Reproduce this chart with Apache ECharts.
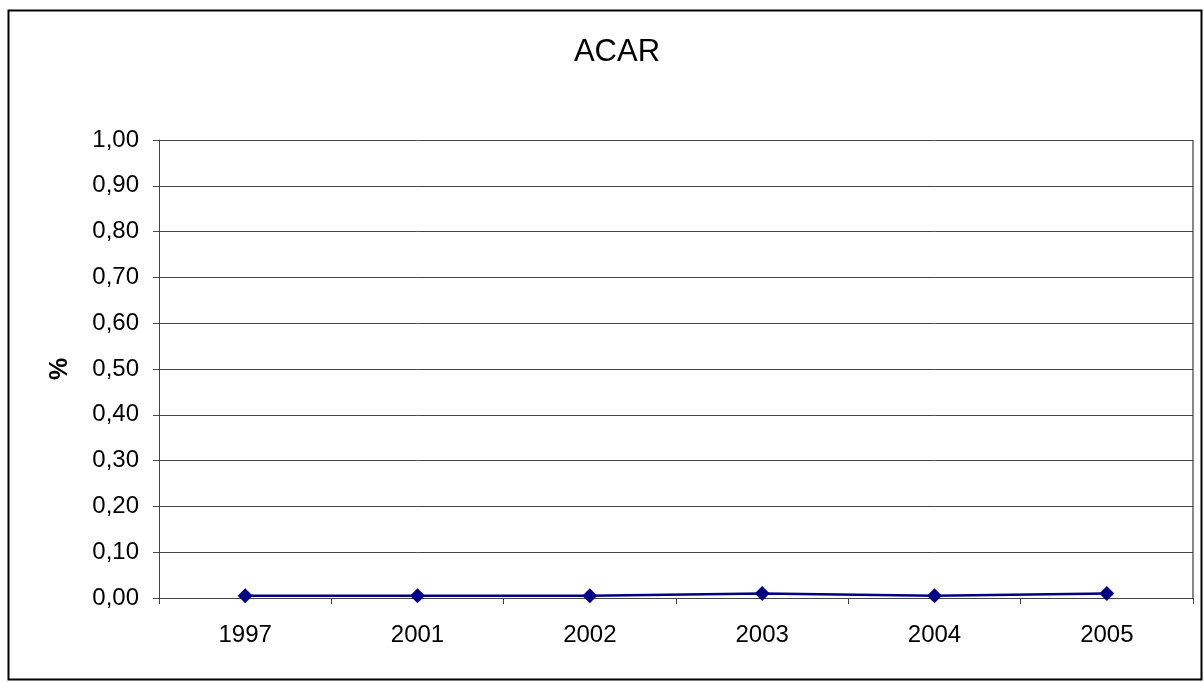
<!DOCTYPE html>
<html>
<head>
<meta charset="utf-8">
<style>
  html, body { margin: 0; padding: 0; background: #fff; }
  #chart { width: 1204px; height: 682px; }
</style>
<script src="https://cdn.jsdelivr.net/npm/echarts@6/dist/echarts.min.js"></script>
</head>
<body>
<div id="chart"></div>
<script>
// Annual share for ACAR, in percent
const years = ['1997', '2001', '2002', '2003', '2004', '2005'];
const acarValues = [0.005, 0.005, 0.005, 0.01, 0.005, 0.01];
const yMin = 0;
const yMax = 1;
const yStep = 0.1;

const chart = echarts.init(document.getElementById('chart'));
const font = 'Liberation Sans, Arial, sans-serif';

chart.setOption({
  animation: false,
  backgroundColor: '#ffffff',
  title: {
    text: 'ACAR',
    left: 612,
    textAlign: 'center',
    top: 32,
    textStyle: { fontFamily: font, fontSize: 31, fontWeight: 'normal', color: '#000' }
  },
  graphic: [
    {
      type: 'rect',
      shape: { x: 8.5, y: 10.5, width: 1193, height: 669 },
      style: { fill: 'none', stroke: '#000', lineWidth: 2 },
      silent: true
    },
    {
      type: 'line',
      shape: { x1: 1193, y1: 140, x2: 1193, y2: 598 },
      style: { stroke: '#888', lineWidth: 2 },
      silent: true
    }
  ],
  grid: { left: 159, right: 11, top: 140, bottom: 84 },
  xAxis: {
    type: 'category',
    data: years,
    boundaryGap: true,
    axisLine: { show: true, lineStyle: { color: '#444', width: 1 } },
    axisTick: { show: true, alignWithLabel: false, length: 6, lineStyle: { color: '#444' } },
    axisLabel: { margin: 25, fontFamily: font, fontSize: 24, color: '#000' },
    splitLine: { show: false }
  },
  yAxis: {
    type: 'value',
    min: yMin,
    max: yMax,
    interval: yStep,
    name: '%',
    nameLocation: 'middle',
    nameGap: 86,
    nameRotate: 90,
    nameTextStyle: { fontFamily: font, fontSize: 25, fontWeight: 'bold', color: '#000' },
    axisLine: { show: true, lineStyle: { color: '#444', width: 1 } },
    axisTick: { show: true, length: 6, lineStyle: { color: '#444' } },
    axisLabel: {
      margin: 20,
      fontFamily: font,
      fontSize: 24,
      color: '#000',
      formatter: v => v.toFixed(2).replace('.', ',')
    },
    splitLine: { show: true, lineStyle: { color: '#444', width: 1 } }
  },
  series: [
    {
      type: 'line',
      data: acarValues,
      symbol: 'diamond',
      symbolSize: 15,
      lineStyle: { color: '#000080', width: 2.5 },
      itemStyle: { color: '#000080' }
    }
  ]
});
</script>
</body>
</html>
